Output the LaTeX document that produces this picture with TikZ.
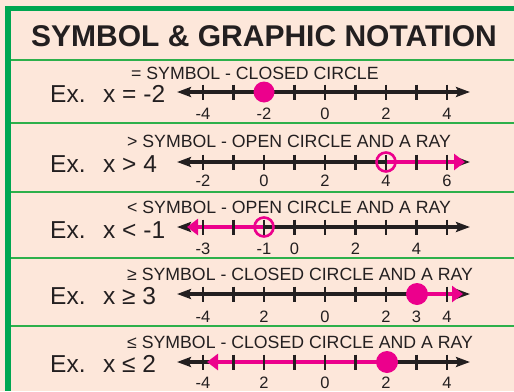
\documentclass[tikz,border=0pt]{standalone}
\usepackage{fontspec}
\setmainfont{Liberation Sans}
\usetikzlibrary{arrows.meta}
\definecolor{peach}{HTML}{FDE7DA}
\definecolor{framegreen}{HTML}{00A651}
\definecolor{sepgreen}{HTML}{2DB04B}
\definecolor{ink}{HTML}{231F20}
\definecolor{hotpink}{HTML}{EC008C}
\tikzset{
  axis/.style={draw=ink, line width=3.6pt,
    {Stealth[length=14pt,width=10pt,inset=2.5pt]}-{Stealth[length=14pt,width=10pt,inset=2.5pt]}},
  tickmark/.style={draw=ink, line width=2.4pt},
  ray/.style={draw=hotpink, line width=3.2pt, -{Triangle[length=11pt,width=16pt]}},
  dot/.style={fill=hotpink},
  ring/.style={draw=hotpink, line width=2.6pt},
  lbl/.style={text=ink, font=\fontsize{16.5}{18}\selectfont, inner sep=0pt},
  capt/.style={anchor=base west, text=ink, font=\fontsize{17.7}{19}\selectfont, inner sep=0pt},
  ex/.style={anchor=base west, text=ink, font=\fontsize{24.5}{26}\selectfont, inner sep=0pt},
  sepline/.style={draw=sepgreen, line width=2pt},
}
\newcommand\myticks[1]{%
  \foreach \i in {0,...,8} \draw[tickmark] (203+30.5*\i,#1-7.5) -- (203+30.5*\i,#1+7.5);}
\begin{document}
\begin{tikzpicture}[x=1pt,y=-1pt]
\fill[peach] (0,0) rectangle (514,391);
\useasboundingbox (0,0) rectangle (514,391);
% frame
\fill[framegreen] (5,6) rectangle (514,11);
\fill[framegreen] (5,6) rectangle (11,391);
\foreach \y in {60,123,192,258,326} \draw[sepline] (11,\y) -- (514,\y);
% title
\node[anchor=base west, inner sep=0pt, text=ink, font=\bfseries\fontsize{30}{32}\selectfont] (title) at (31,46) {SYMBOL \& GRAPHIC NOTATION};

% ---------- row 1 : x = -2
\node[capt] (c1) at (131,79) {= SYMBOL - CLOSED CIRCLE};
\node[ex] (e1) at (50,102) {Ex.};
\node[ex] (x1) at (103,102) {x = -2};
\coordinate (a1L) at (177,92); \coordinate (a1R) at (470,92);
\draw[axis] (a1L) -- (a1R);
\myticks{92}
\foreach \i/\t in {0/-4,2/-2,4/0,6/2,8/4} \node[lbl] (l1-\i) at (203+30.5*\i,114) {\t};
\fill[dot] (264,92) circle (10.5pt);

% ---------- row 2 : x > 4
\node[capt] (c2) at (127,147) {> SYMBOL - OPEN CIRCLE AND A RAY};
\node[ex] (e2) at (50,172) {Ex.};
\node[ex] (x2) at (103,172) {x > 4};
\coordinate (a2L) at (177,162); \coordinate (a2R) at (470,162);
\coordinate (p2) at (386,162); \coordinate (q2) at (465,162);
\draw[axis] (a2L) -- (a2R);
\draw[ray] (p2) -- (q2);
\myticks{162}
\foreach \i/\t in {0/-2,2/0,4/2,6/4,8/6} \node[lbl] (l2-\i) at (203+30.5*\i,181) {\t};
\draw[ring] (p2) circle (9.5pt);

% ---------- row 3 : x < -1
\node[capt] (c3) at (127,213) {< SYMBOL - OPEN CIRCLE AND A RAY};
\node[ex] (e3) at (50,238) {Ex.};
\node[ex] (x3) at (103,238) {x < -1};
\coordinate (a3L) at (177,227); \coordinate (a3R) at (470,227);
\coordinate (p3) at (264,227); \coordinate (q3) at (187,227);
\draw[axis] (a3L) -- (a3R);
\draw[ray] (p3) -- (q3);
\myticks{227}
\foreach \i/\t in {0/-3,2/-1,3/0,5/2,7/4} \node[lbl] (l3-\i) at (203+30.5*\i,249) {\t};
\draw[ring] (p3) circle (9.5pt);

% ---------- row 4 : x >= 3
\node[capt] (c4) at (127,280) {≥ SYMBOL - CLOSED CIRCLE AND A RAY};
\node[ex] (e4) at (50,304) {Ex.};
\node[ex] (x4) at (103,304) {x ≥ 3};
\coordinate (a4L) at (177,294); \coordinate (a4R) at (470,294);
\coordinate (p4) at (417,294); \coordinate (q4) at (463,294);
\draw[axis] (a4L) -- (a4R);
\draw[ray] (p4) -- (q4);
\myticks{294}
\foreach \i/\t in {0/-4,2/2,4/0,6/2,7/3,8/4} \node[lbl] (l4-\i) at (203+30.5*\i,317) {\t};
\fill[dot] (p4) circle (11pt);

% ---------- row 5 : x <= 2
\node[capt] (c5) at (127,348) {≤ SYMBOL - CLOSED CIRCLE AND A RAY};
\node[ex] (e5) at (50,372) {Ex.};
\node[ex] (x5) at (103,372) {x ≤ 2};
\coordinate (a5L) at (177,362); \coordinate (a5R) at (470,362);
\coordinate (p5) at (387,362); \coordinate (q5) at (207,362);
\draw[axis] (a5L) -- (a5R);
\draw[ray] (p5) -- (q5);
\myticks{362}
\foreach \i/\t in {0/-4,2/2,4/0,6/2,8/4} \node[lbl] (l5-\i) at (203+30.5*\i,382.5) {\t};
\fill[dot] (p5) circle (11pt);
\end{tikzpicture}
\end{document}
